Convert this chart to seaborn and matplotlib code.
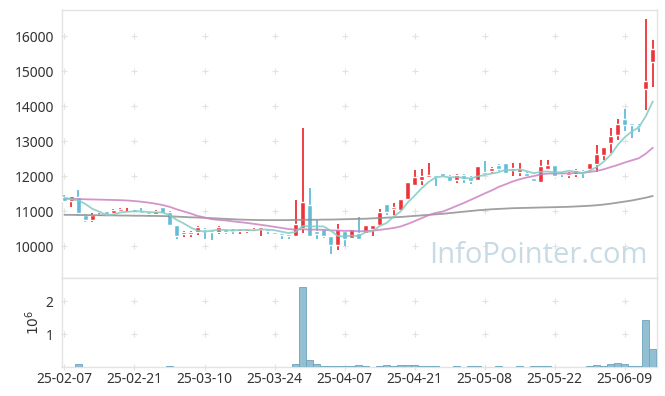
import numpy as np
import pandas as pd
import matplotlib.pyplot as plt
import seaborn as sns

# daily candles, trading days 25-02-07 .. 25-06-13
opens = [11400, 11300, 11400, 10900, 10740, 10860, 11000, 10930, 11010, 10930,
         11050, 11010, 10960, 10910, 11110, 10980, 10600, 10330, 10330, 10400,
         10500, 10430, 10390, 10480, 10510, 10420, 10420, 10420, 10480, 10490,
         10410, 10340, 10300, 10290, 10510, 11180, 10430, 10490, 10290, 10030,
         10440, 10240, 10360, 10360, 10480, 10600, 11200, 11050, 11030, 11340,
         11740, 11890, 11980, 12000, 12080, 12000, 11890, 12030, 11960, 11890,
         12120, 12150, 12310, 12380, 12170, 12120, 12080, 11950, 11820, 12200,
         12310, 12080, 12030, 12060, 12120, 12190, 12340, 12600, 12950, 13170,
         13620, 13480, 13460, 14490, 15270]
highs = [11450, 11430, 11600, 10920, 10950, 10950, 11000, 11050, 11080, 11080,
         11060, 11080, 10960, 11040, 11120, 11000, 10600, 10440, 10420, 10560,
         10510, 10440, 10570, 10490, 10520, 10470, 10490, 10520, 10530, 10500,
         10410, 10350, 10330, 11310, 13360, 11650, 10740, 10500, 10290, 10630,
         10440, 10490, 10840, 10600, 10600, 11060, 11200, 11230, 11340, 11840,
         12170, 12200, 12370, 12000, 12090, 12030, 12060, 12060, 12000, 12290,
         12430, 12260, 12340, 12380, 12380, 12380, 12110, 11950, 12460, 12460,
         12310, 12100, 12120, 12200, 12170, 12380, 12890, 12820, 13360, 13620,
         13910, 13480, 13500, 16500, 15900]
lows = [11250, 11120, 10900, 10700, 10700, 10850, 10900, 10920, 10980, 10920,
        10960, 10930, 10860, 10880, 10940, 10580, 10200, 10260, 10250, 10310,
        10200, 10180, 10330, 10350, 10340, 10340, 10370, 10400, 10300, 10340,
        10320, 10200, 10200, 10260, 10360, 10280, 10200, 10220, 9770, 9890,
        10010, 10240, 10170, 10360, 10300, 10580, 10880, 10880, 11030, 11340,
        11720, 11740, 11980, 11720, 11990, 11830, 11800, 11800, 11780, 11860,
        12060, 12080, 12150, 12080, 12000, 12000, 12000, 11870, 11820, 12200,
        12010, 11980, 11950, 11970, 11940, 12150, 12120, 12460, 12650, 13030,
        13300, 13100, 13260, 13890, 14550]
closes = [11300, 11420, 10930, 10740, 10900, 10920, 10920, 11030, 11050, 10980,
          10970, 10940, 10920, 11000, 10950, 10600, 10290, 10400, 10400, 10530,
          10440, 10410, 10530, 10410, 10430, 10460, 10480, 10490, 10510, 10420,
          10330, 10320, 10290, 10630, 11270, 10290, 10340, 10290, 10030, 10490,
          10210, 10490, 10190, 10600, 10600, 10960, 10960, 11100, 11340, 11840,
          11980, 12000, 12000, 11960, 12000, 11860, 12030, 11910, 11860, 12290,
          12060, 12240, 12190, 12100, 12220, 12190, 12010, 11870, 12290, 12310,
          12010, 12050, 12080, 12170, 12080, 12360, 12630, 12820, 13140, 13500,
          13460, 13450, 13390, 14720, 15630]
volumes = [0, 0, 90000, 0, 0, 0, 0, 0, 0, 0,
           0, 0, 0, 0, 0, 25000, 0, 0, 0, 0,
           0, 0, 0, 0, 0, 0, 0, 0, 0, 0,
           0, 0, 0, 90000, 2440000, 220000, 90000, 25000, 25000, 25000,
           25000, 25000, 70000, 25000, 0, 25000, 70000, 25000, 60000, 60000,
           60000, 25000, 25000, 25000, 0, 0, 25000, 0, 25000, 25000,
           0, 0, 25000, 0, 0, 25000, 0, 25000, 25000, 25000,
           0, 0, 0, 0, 0, 25000, 70000, 25000, 100000, 130000,
           100000, 25000, 25000, 1420000, 550000]
ma5 = [11360, 11340, 11300, 11200, 11060, 10980, 10880, 10900, 10960, 10980,
       10990, 10990, 10970, 10960, 10960, 10880, 10750, 10650, 10530, 10440,
       10410, 10440, 10460, 10460, 10440, 10460, 10460, 10450, 10470, 10470,
       10450, 10410, 10370, 10400, 10570, 10560, 10560, 10560, 10440, 10290,
       10270, 10300, 10280, 10400, 10420, 10570, 10660, 10840, 10990, 11240,
       11440, 11650, 11830, 11960, 11990, 11960, 11970, 11950, 11930, 11990,
       12030, 12070, 12110, 12180, 12160, 12190, 12140, 12080, 12120, 12130,
       12100, 12110, 12150, 12120, 12080, 12150, 12260, 12410, 12610, 12890,
       13110, 13270, 13390, 13710, 14130]
ma20 = [11360, 11350, 11340, 11335, 11330, 11325, 11320, 11315, 11310, 11300,
        11285, 11265, 11240, 11210, 11170, 11120, 11050, 10990, 10930, 10860,
        10817, 10766, 10746, 10730, 10706, 10683, 10661, 10634, 10607, 10579,
        10547, 10516, 10485, 10466, 10482, 10467, 10469, 10464, 10445, 10443,
        10432, 10436, 10419, 10428, 10437, 10462, 10486, 10516, 10558, 10629,
        10711, 10795, 10881, 10947, 10984, 11062, 11147, 11228, 11319, 11409,
        11502, 11589, 11689, 11764, 11845, 11907, 11959, 11998, 12045, 12069,
        12070, 12073, 12077, 12087, 12091, 12116, 12146, 12192, 12256, 12316,
        12386, 12447, 12507, 12638, 12808]
ma60 = [10890, 10890, 10885, 10885, 10880, 10880, 10875, 10875, 10870, 10870,
        10865, 10865, 10860, 10860, 10855, 10850, 10840, 10830, 10820, 10815,
        10805, 10795, 10785, 10775, 10765, 10755, 10750, 10745, 10740, 10740,
        10740, 10740, 10740, 10745, 10750, 10750, 10750, 10755, 10755, 10760,
        10765, 10770, 10775, 10780, 10790, 10800, 10810, 10820, 10830, 10845,
        10860, 10875, 10890, 10905, 10920, 10940, 10960, 10980, 11000, 11020,
        11035, 11050, 11060, 11070, 11080, 11085, 11090, 11095, 11100, 11105,
        11110, 11115, 11120, 11130, 11140, 11150, 11165, 11185, 11210, 11240,
        11270, 11300, 11340, 11380, 11430]
tick_labels = ['25-02-07', '25-02-21', '25-03-10', '25-03-24', '25-04-07',
               '25-04-21', '25-05-08', '25-05-22', '25-06-09']
price_ticks = [10000, 11000, 12000, 13000, 14000, 15000, 16000]

RED = '#ee3237'
BLUE = '#62bcd8'
GRID = '#e2e2e2'

sns.set_style('white')
plt.rcParams['font.family'] = ['Noto Sans', 'DejaVu Sans']

df = pd.DataFrame({'open': opens, 'high': highs, 'low': lows, 'close': closes,
                   'volume': volumes, 'ma5': ma5, 'ma20': ma20, 'ma60': ma60})
df['idx'] = np.arange(len(df))
df['vol_m'] = df['volume'] / 1e6
up = df['close'] >= df['open']
colors = np.where(up, RED, BLUE)

fig = plt.figure(figsize=(6.65, 3.96), dpi=100)
ax = fig.add_axes([62 / 665, 1 - 278 / 396, 595 / 665, 268 / 396])
axv = fig.add_axes([62 / 665, 1 - 367 / 396, 595 / 665, 89 / 396], sharex=ax)

# candles
ax.vlines(df['idx'], df['low'], df['high'], colors=colors, lw=1.3, zorder=2)
body_lo = df[['open', 'close']].min(axis=1)
body_h = (df['close'] - df['open']).abs().clip(lower=55)
ax.bar(df['idx'], body_h, bottom=body_lo, width=0.72, color=colors, zorder=3)

# moving averages
sns.lineplot(data=df, x='idx', y='ma60', ax=ax, color='#8f8f8f', lw=1.3, alpha=0.85, zorder=4)
sns.lineplot(data=df, x='idx', y='ma20', ax=ax, color='#cc82c4', lw=1.3, alpha=0.85, zorder=4)
sns.lineplot(data=df, x='idx', y='ma5', ax=ax, color='#82cbc2', lw=1.3, alpha=0.85, zorder=4)

xt = np.arange(0, len(df), 10)
gx, gy = np.meshgrid(xt, price_ticks)
ax.scatter(gx.ravel(), gy.ravel(), marker='+', s=16, color=GRID, lw=0.8, zorder=0, clip_on=False)

ax.set_xlim(-0.35, 84.6)
ax.set_ylim(9086, 16743)
ax.set_yticks(price_ticks)
ax.set_yticklabels([str(t) for t in price_ticks])
ax.set_xlabel('')
ax.set_ylabel('')
ax.tick_params(axis='x', labelbottom=False, length=0)
ax.tick_params(axis='y', length=0, labelsize=10, colors='#333333', pad=6)

ax.text(0.985, 0.085, 'InfoPointer.com', transform=ax.transAxes, ha='right', va='center',
        fontsize=21, color='#c8dae5', family=['Open Sans', 'DejaVu Sans'], zorder=1)

# volume
sns.barplot(data=df, x='idx', y='vol_m', ax=axv, native_scale=True, width=1,
            color='#93bfd2', edgecolor='#6ea3bb', linewidth=0.6, saturation=1, zorder=3)
vx, vy = np.meshgrid(xt, [0, 1, 2])
axv.scatter(vx.ravel(), vy.ravel(), marker='+', s=16, color=GRID, lw=0.8, zorder=0, clip_on=False)
axv.set_xlim(-0.35, 84.6)
axv.set_ylim(0, 2.7)
axv.set_yticks([1, 2])
axv.set_yticklabels(['1', '2'])
axv.set_xticks(xt)
axv.set_xticklabels(tick_labels)
axv.set_xlabel('')
axv.set_ylabel('$10^6$', fontsize=10, color='#333333', labelpad=2)
axv.tick_params(length=0, labelsize=10, colors='#333333')
axv.tick_params(axis='y', pad=6)

for a in (ax, axv):
    for s in a.spines.values():
        s.set_color('#e3e3e3')
        s.set_linewidth(1)

fig.savefig('out.png', dpi=100)
